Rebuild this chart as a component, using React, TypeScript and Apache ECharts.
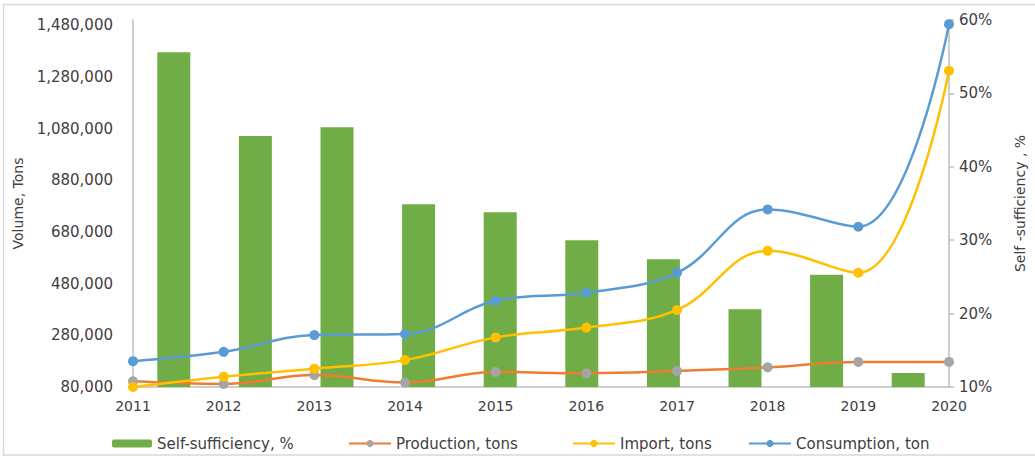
import React, { useEffect, useRef } from "react";
import * as echarts from "echarts";

const years = ["2011", "2012", "2013", "2014", "2015", "2016", "2017", "2018", "2019", "2020"];
const selfSufficiency = [55.6, 44.2, 45.4, 34.9, 33.8, 30.0, 27.4, 20.6, 25.3, 11.9];
const production = [102000, 92000, 126000, 97000, 138000, 133000, 142000, 156000, 177000, 177000];
const importTons = [80000, 120000, 151000, 184000, 272000, 310000, 378000, 607000, 522000, 1304000];
const consumption = [180000, 216000, 281000, 285000, 414000, 445000, 522000, 767000, 700000, 1484000];

const FONT = "DejaVu Sans";
const TXT = "#404040";

export default function App() {
  const ref = useRef<HTMLDivElement>(null);
  useEffect(() => {
    if (!ref.current) return;
    const chart = echarts.init(ref.current, undefined, { renderer: "svg" });
    const legendText = { fontFamily: FONT, fontSize: 15, color: TXT };
    const lineSeries = (name: string, data: number[], lineColor: string, markerColor: string) => ({
      name,
      type: "line",
      data,
      xAxisIndex: 0,
      yAxisIndex: 0,
      smooth: 0.4,
      symbol: "circle",
      symbolSize: 10,
      lineStyle: { color: lineColor, width: 2.5 },
      itemStyle: { color: markerColor },
      z: 3,
    });
    chart.setOption({
      animation: false,
      backgroundColor: "#ffffff",
      graphic: [
        {
          type: "rect",
          shape: { x: 3.5, y: 4.5, width: 1040, height: 450.5 },
          style: { fill: "none", stroke: "#d9d9d9", lineWidth: 1.5 },
          silent: true,
        },
      ],
      grid: { left: 133, right: 85, top: 20, bottom: 69 },
      legend: [
        { data: ["Self-sufficiency, %"], left: 107, top: 431, itemWidth: 40, itemHeight: 8, itemGap: 0, textStyle: legendText },
        { data: ["Production, tons"], left: 343, top: 431, itemWidth: 42, itemHeight: 9, textStyle: legendText },
        { data: ["Import, tons"], left: 567, top: 431, itemWidth: 42, itemHeight: 9, textStyle: legendText },
        { data: ["Consumption, ton"], left: 743, top: 431, itemWidth: 42, itemHeight: 9, textStyle: legendText },
      ],
      xAxis: [
        {
          type: "category",
          data: years,
          boundaryGap: false,
          position: "bottom",
          axisLine: { lineStyle: { color: "#bfbfbf", width: 1.5 } },
          axisTick: { show: false },
          axisLabel: { fontFamily: FONT, fontSize: 14, color: TXT, margin: 12 },
        },
        {
          type: "category",
          data: years,
          boundaryGap: true,
          position: "bottom",
          show: false,
        },
      ],
      yAxis: [
        {
          type: "value",
          position: "left",
          min: 80000,
          max: 1500000,
          interval: 200000,
          name: "Volume, Tons",
          nameLocation: "middle",
          nameGap: 108,
          nameRotate: 90,
          nameTextStyle: { fontFamily: FONT, fontSize: 14, color: TXT },
          axisLine: { show: true, lineStyle: { color: "#bfbfbf", width: 1.5 } },
          axisTick: { show: false },
          splitLine: { show: false },
          axisLabel: {
            fontFamily: FONT,
            fontSize: 15,
            color: TXT,
            margin: 20,
            formatter: (v: number) => (v >= 1500000 ? "" : v.toLocaleString("en-US")),
          },
        },
        {
          type: "value",
          position: "right",
          min: 10,
          max: 60,
          interval: 10,
          name: "Self -sufficiency , %",
          nameLocation: "middle",
          nameGap: 64,
          nameRotate: 90,
          nameTextStyle: { fontFamily: FONT, fontSize: 14, color: TXT },
          axisLine: { show: true, lineStyle: { color: "#bfbfbf", width: 1.5 } },
          axisTick: { show: true, inside: false, length: 5, lineStyle: { color: "#bfbfbf", width: 1.5 } },
          splitLine: { show: false },
          axisLabel: { fontFamily: FONT, fontSize: 15, color: TXT, margin: 10, formatter: "{value}%" },
        },
      ],
      series: [
        {
          name: "Self-sufficiency, %",
          type: "bar",
          data: selfSufficiency,
          xAxisIndex: 1,
          yAxisIndex: 1,
          barWidth: 33,
          itemStyle: { color: "#70AD47" },
          z: 1,
        },
        lineSeries("Production, tons", production, "#ED7D31", "#A5A5A5"),
        lineSeries("Import, tons", importTons, "#FFC000", "#FFC000"),
        lineSeries("Consumption, ton", consumption, "#5B9BD5", "#5B9BD5"),
      ],
    });
    return () => chart.dispose();
  }, []);
  return (
    <div
      ref={ref}
      style={{ position: "fixed", left: 0, top: 0, width: 1035, height: 456 }}
    />
  );
}
